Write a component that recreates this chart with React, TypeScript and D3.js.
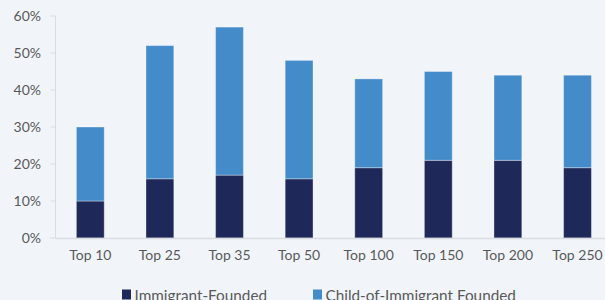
import React from "react";
import * as d3 from "d3";

const categories = ["Top 10", "Top 25", "Top 35", "Top 50", "Top 100", "Top 150", "Top 200", "Top 250"];
const immigrantFounded = [10, 16, 17, 16, 19, 21, 21, 19];
const childOfImmigrant = [20, 36, 40, 32, 24, 24, 23, 25];
const yTicks = [0, 10, 20, 30, 40, 50, 60];
const seriesNames = ["Immigrant-Founded", "Child-of-Immigrant Founded"];
const seriesColors = ["#1e2859", "#448bca"];

const W = 605;
const H = 300;
const left = 55.5;
const top = 16;
const bottom = 238;
const step = 69.6;

export default function App() {
  const x = d3
    .scaleBand<string>()
    .domain(categories)
    .range([left, left + step * categories.length])
    .paddingInner(0.6)
    .paddingOuter(0.3);
  const y = d3.scaleLinear().domain([0, 60]).range([bottom, top]);
  const rows = categories.map((c, i) => ({ c, a: immigrantFounded[i], b: childOfImmigrant[i] }));
  const stacked = d3.stack<any>().keys(["a", "b"])(rows);
  const font = "Lato, 'Open Sans', sans-serif";
  const grey = "#595959";
  const axisColor = "#d9dde2";

  return (
    <svg width={W} height={H} style={{ position: "absolute", left: 0, top: 0 }} fontFamily={font}>
      <rect x={0} y={0} width={W} height={H} fill="#f1f5f9" />
      {stacked.map((s, si) => (
        <g key={si}>
          {s.map((d: any, i: number) => (
            <rect
              key={i}
              x={x(categories[i])}
              y={y(d[1])}
              width={x.bandwidth()}
              height={y(d[0]) - y(d[1])}
              fill={seriesColors[si]}
              stroke="#ffffff"
              strokeOpacity={0.35}
              strokeWidth={1}
            />
          ))}
        </g>
      ))}
      <line x1={left} x2={left} y1={top} y2={bottom} stroke={axisColor} strokeWidth={1} />
      <line x1={left} x2={W} y1={bottom + 0.5} y2={bottom + 0.5} stroke={axisColor} strokeWidth={1.5} />
      {yTicks.map((t) => (
        <g key={t}>
          <line x1={left - 5} x2={left} y1={y(t)} y2={y(t)} stroke={axisColor} />
          <text x={41} y={y(t)} dy="0.35em" textAnchor="end" fontSize={14} fill={grey}>
            {t}%
          </text>
        </g>
      ))}
      {categories.map((c) => (
        <text key={c} x={(x(c) as number) + x.bandwidth() / 2} y={260} textAnchor="middle" fontSize={14} fill={grey}>
          {c}
        </text>
      ))}
      {seriesNames.map((n, i) => {
        const lx = i === 0 ? 122 : 313;
        return (
          <g key={n}>
            <rect x={lx} y={289.5} width={9} height={10} fill={seriesColors[i]} />
            <text x={lx + 12.5} y={301} fontSize={15.3} fill={grey}>
              {n}
            </text>
          </g>
        );
      })}
    </svg>
  );
}
